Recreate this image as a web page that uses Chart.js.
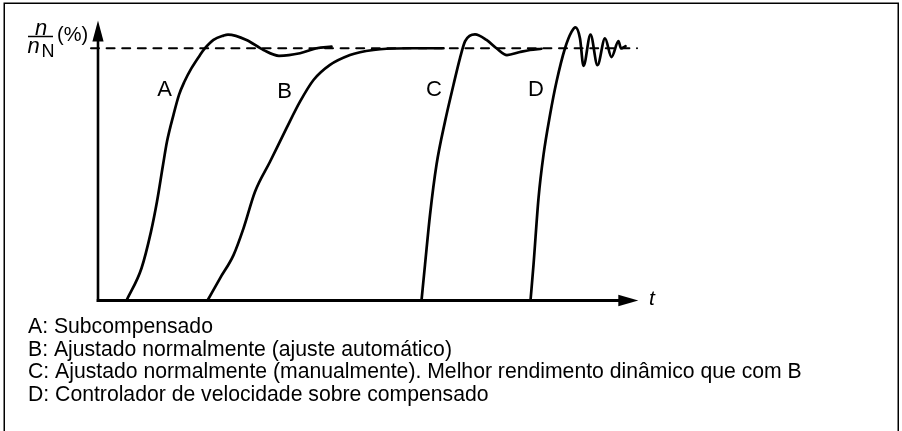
<!DOCTYPE html>
<html>
<head>
<meta charset="utf-8">
<script src="https://cdn.jsdelivr.net/npm/chart.js@4"></script>
<style>
  html, body { margin: 0; padding: 0; background: #ffffff; }
  #wrap { width: 902px; height: 431px; position: relative; }
</style>
</head>
<body>
<div id="wrap"><canvas id="c" width="902" height="431"></canvas></div>
<script>
// Step responses of the speed controller: time t (arbitrary units) and n/nN (%)
const curveNames = ['A', 'B', 'C', 'D'];

const tA = [5.7, 8.7, 10.6, 11.8, 13.0, 13.8, 15.1, 16.2, 17.3, 18.7, 20.4, 21.4, 23.1, 25.1, 26.0, 29.7, 33.1, 36.2, 40.4, 43.7, 46.7];
const nA = [0, 12.8, 27.3, 39.2, 53.7, 63.0, 73.6, 81.5, 86.8, 92.1, 97.3, 100, 103.3, 105.0, 105.4, 103.3, 99.3, 97.0, 98.0, 100, 100.6];

const tB = [21.9, 24.4, 27.1, 29.1, 31.4, 34.4, 37.7, 40.4, 43.1, 46.4, 50.4, 52.4, 55.1, 57.7, 62.4, 69.1];
const nB = [0, 8.8, 18.0, 28.6, 43.1, 55.0, 68.3, 78.8, 87.4, 93.4, 97.3, 98.4, 99.3, 99.8, 100, 100];

const tC = [64.7, 65.4, 66.4, 67.7, 69.4, 71.1, 72.4, 73.4, 74.4, 75.4, 77.7, 79.7, 81.8, 84.4, 86.4, 88.7];
const nC = [0, 14.1, 33.9, 53.8, 70.9, 85.5, 96.1, 102.7, 105.0, 105.5, 103.3, 100, 97.3, 98.5, 99.3, 99.8];

const tD = [86.5, 87.1, 88.1, 89.1, 90.4, 91.7, 93.4, 94.7, 95.5, 96.4, 97.1, 98.5, 99.9, 101.4, 102.7, 104.1, 104.6, 105.5];
const nD = [0, 14.1, 40.5, 57.7, 73.5, 86.7, 100, 106.5, 108.3, 103.9, 93.0, 105.4, 93.3, 103.9, 96.5, 102.8, 99.9, 100.8];

// Nominal speed reference (dashed)
const refT = [-1.4, 107.8];
const refN = [100, 100];

// Curve letters placed next to each response
const labelT = [13.3, 37.3, 67.2, 87.6];
const labelN = [83.5, 82.8, 83.5, 83.5];

// Explanatory lines under the plot
const legendLines = [
  'A: Subcompensado',
  'B: Ajustado normalmente (ajuste automático)',
  'C: Ajustado normalmente (manualmente). Melhor rendimento dinâmico que com B',
  'D: Controlador de velocidade sobre compensado'
];

const FONT = '"Liberation Sans", Arial, Helvetica, sans-serif';

function toPoints(xs, ys) { return xs.map((x, i) => ({ x: x, y: ys[i] })); }

const curveData = [[tA, nA], [tB, nB], [tC, nC], [tD, nD]];

const datasets = curveData.map((d, i) => ({
  label: curveNames[i],
  data: toPoints(d[0], d[1]),
  borderColor: '#000000',
  borderWidth: 2.7,
  pointRadius: 0,
  cubicInterpolationMode: 'monotone',
  fill: false,
  clip: false
}));

datasets.push({
  label: 'ref',
  data: toPoints(refT, refN),
  borderColor: '#000000',
  borderWidth: 2,
  borderDash: [8, 7.6],
  pointRadius: 0,
  fill: false,
  clip: false
});

const decor = {
  id: 'decor',
  beforeDatasetsDraw(chart) {
    const ctx = chart.ctx;
    const xs = chart.scales.x, ys = chart.scales.y;
    const x0 = xs.getPixelForValue(0);
    const y0 = ys.getPixelForValue(0);
    const yTop = ys.getPixelForValue(ys.max);
    const xEnd = xs.getPixelForValue(xs.max);
    ctx.save();
    ctx.strokeStyle = '#000';
    ctx.fillStyle = '#000';
    // vertical axis
    ctx.lineWidth = 2.6;
    ctx.beginPath();
    ctx.moveTo(x0, y0 + 1.5);
    ctx.lineTo(x0, yTop + 12);
    ctx.stroke();
    // arrow head on vertical axis
    ctx.beginPath();
    ctx.moveTo(x0, yTop - 2.4);
    ctx.lineTo(x0 - 5.6, yTop + 18.6);
    ctx.lineTo(x0 + 5.6, yTop + 18.6);
    ctx.closePath();
    ctx.fill();
    // horizontal axis
    ctx.lineWidth = 3;
    ctx.beginPath();
    ctx.moveTo(x0 - 1.3, y0);
    ctx.lineTo(xEnd - 12, y0);
    ctx.stroke();
    ctx.beginPath();
    ctx.moveTo(xEnd + 0.3, y0);
    ctx.lineTo(xEnd - 19.7, y0 - 5.8);
    ctx.lineTo(xEnd - 19.7, y0 + 5.8);
    ctx.closePath();
    ctx.fill();
    ctx.restore();
  },
  afterDraw(chart) {
    const ctx = chart.ctx;
    const xs = chart.scales.x, ys = chart.scales.y;
    const x0 = xs.getPixelForValue(0);
    const y0 = ys.getPixelForValue(0);
    const xEnd = xs.getPixelForValue(xs.max);
    ctx.save();
    ctx.fillStyle = '#000';
    ctx.strokeStyle = '#000';

    // curve letters
    ctx.font = '22px ' + FONT;
    ctx.textAlign = 'center';
    ctx.textBaseline = 'middle';
    curveNames.forEach((nm, i) => {
      ctx.fillText(nm, xs.getPixelForValue(labelT[i]), ys.getPixelForValue(labelN[i]));
    });

    // time axis symbol
    ctx.font = 'italic 21px ' + FONT;
    ctx.textAlign = 'left';
    ctx.textBaseline = 'alphabetic';
    ctx.fillText('t', xEnd + 11, y0 + 4.5);

    // speed axis title: n / nN (%)
    const ax = x0 - 70;
    ctx.font = 'italic 22px ' + FONT;
    ctx.fillText('n', ax + 7, 35);
    ctx.lineWidth = 1.5;
    ctx.beginPath();
    ctx.moveTo(ax, 36.5);
    ctx.lineTo(ax + 25, 36.5);
    ctx.stroke();
    ctx.fillText('n', ax - 0.5, 53);
    ctx.font = '18px ' + FONT;
    ctx.fillText('N', ax + 13.5, 57);
    ctx.font = '20px ' + FONT;
    ctx.fillText('(%)', ax + 29, 41);

    // explanatory lines
    ctx.font = '21.2px ' + FONT;
    legendLines.forEach((ln, i) => {
      ctx.fillText(ln, 28, 333 + i * 22.5);
    });

    // frame
    ctx.lineWidth = 1.5;
    ctx.strokeRect(4.25, 3.25, 894, 440);
    ctx.restore();
  }
};

new Chart(document.getElementById('c'), {
  type: 'line',
  data: { datasets: datasets },
  options: {
    responsive: false,
    animation: false,
    devicePixelRatio: 1,
    layout: { padding: { left: 98, right: 264, top: 23, bottom: 130.5 } },
    plugins: { legend: { display: false }, tooltip: { enabled: false } },
    scales: {
      x: { type: 'linear', min: 0, max: 108, display: false },
      y: { type: 'linear', min: 0, max: 110, display: false }
    },
    elements: { line: { borderCapStyle: 'round', borderJoinStyle: 'round' } }
  },
  plugins: [decor]
});
</script>
</body>
</html>
